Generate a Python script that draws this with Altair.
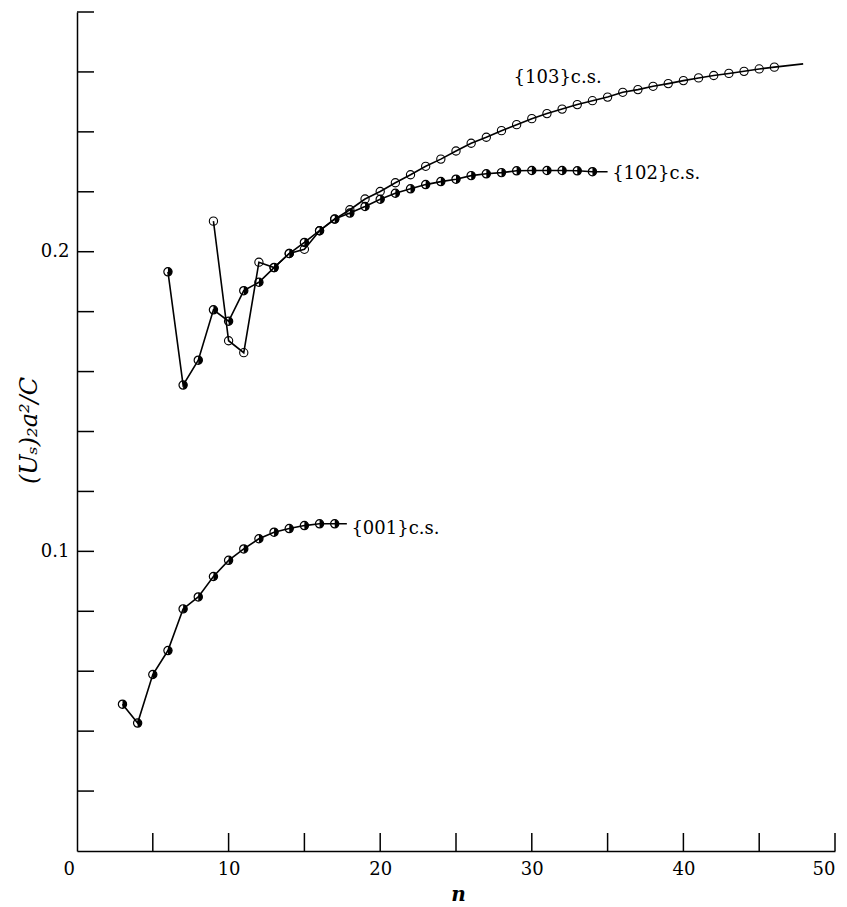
import altair as alt
import pandas as pd

# ---- data ----
n_001 = list(range(3, 18))
v_001 = [0.0490, 0.0427, 0.0589, 0.0669, 0.0808, 0.0848, 0.0916, 0.0970,
         0.1008, 0.1042, 0.1064, 0.1076, 0.1086, 0.1092, 0.1092]

n_102 = list(range(6, 35))
v_102 = [0.1933, 0.1555, 0.1638, 0.1806, 0.1768, 0.1870, 0.1898, 0.1947,
         0.1994, 0.2031, 0.2070, 0.2109, 0.2129, 0.2151, 0.2175, 0.2195,
         0.2210, 0.2224, 0.2234, 0.2242, 0.2254, 0.2260, 0.2264, 0.2270,
         0.2271, 0.2271, 0.2271, 0.2270, 0.2267]

n_103 = list(range(9, 47))
v_103 = [0.2102, 0.1703, 0.1663, 0.1965, 0.1947, 0.1994, 0.2008, 0.2070,
         0.2109, 0.2140, 0.2176, 0.2201, 0.2230, 0.2257, 0.2285, 0.2309,
         0.2336, 0.2362, 0.2382, 0.2404, 0.2424, 0.2444, 0.2461, 0.2476,
         0.2491, 0.2504, 0.2516, 0.2532, 0.2541, 0.2552, 0.2561, 0.2571,
         0.2580, 0.2588, 0.2595, 0.2602, 0.2610, 0.2616]

# where each drawn curve runs on past its last marker
end_n = {"001": 17.8, "102": 35.0, "103": 47.9}
end_v = {"001": 0.1092, "102": 0.2267, "103": 0.2627}

label_text = ["{103}c.s.", "{102}c.s.", "{001}c.s."]
label_n = [28.8, 35.3, 18.1]
label_v = [0.2581, 0.2258, 0.1075]

x_tick_values = [5, 10, 15, 20, 25, 30, 35, 40, 45, 50]
y_tick_values = [0.02, 0.04, 0.06, 0.08, 0.10, 0.12, 0.14, 0.16, 0.18,
                 0.20, 0.22, 0.24, 0.26, 0.28]
x_label_values = [0, 10, 20, 30, 40, 50]
y_label_values = [0.1, 0.2]

# ---- tables ----
series = {"001": (n_001, v_001), "102": (n_102, v_102), "103": (n_103, v_103)}
line_rows, pt_rows = [], []
for s, (ns, vs) in series.items():
    for i, (n, v) in enumerate(zip(ns, vs)):
        line_rows.append({"s": s, "n": n, "v": v, "o": i})
        pt_rows.append({"s": s, "n": n, "v": v})
    line_rows.append({"s": s, "n": end_n[s], "v": end_v[s], "o": len(ns)})
lines_df = pd.DataFrame(line_rows)
pts_df = pd.DataFrame(pt_rows)
open_df = pts_df[pts_df.s == "103"]
half_df = pts_df[pts_df.s != "103"]
labels_df = pd.DataFrame({"t": label_text, "n": label_n, "v": label_v})
xt_df = pd.DataFrame({"t": x_tick_values})
yt_df = pd.DataFrame({"t": y_tick_values})

W, H = 758, 839
FONT = "DejaVu Serif"

xs = alt.Scale(domain=[0, 50], nice=False, zero=False)
ys = alt.Scale(domain=[0, 0.28], nice=False, zero=False)

xaxis = alt.Axis(values=x_label_values, ticks=False, grid=False,
                 domainColor="black", domainWidth=1.5,
                 labelFont=FONT, labelFontSize=18, labelColor="black",
                 labelPadding=9,
                 labelOffset={"condition": {"test": "datum.value === 0", "value": -14}, "value": 0},
                 title="n", titleFont=FONT, titleFontSize=20,
                 titleFontStyle="italic", titleFontWeight="bold",
                 titleColor="black", titleX=W / 2 + 2, titleY=43,
                 titleBaseline="middle")
yaxis = alt.Axis(values=y_label_values, format=".1f", ticks=False, grid=False,
                 domainColor="black", domainWidth=1.5,
                 labelFont=FONT, labelFontSize=18, labelColor="black",
                 labelPadding=8,
                 title="(Uₛ)₂a²/C", titleFont=FONT, titleFontSize=24,
                 titleFontStyle="italic", titleFontWeight="normal",
                 titleColor="black", titleAngle=270, titleX=-48, titleY=418,
                 titleBaseline="middle", titleAlign="center")


def X(f):
    return alt.X(f, type="quantitative", scale=xs, axis=xaxis)


def Y(f):
    return alt.Y(f, type="quantitative", scale=ys, axis=yaxis)


lines = alt.Chart(lines_df).mark_line(color="black", strokeWidth=1.6).encode(
    x=X("n"), y=Y("v"), detail="s:N", order="o:Q")

open_pts = alt.Chart(open_df).mark_point(
    shape="circle", filled=False, stroke="black", strokeWidth=1.1, size=68,
    opacity=1).encode(x=X("n"), y=Y("v"))

half_ring = alt.Chart(half_df).mark_point(
    shape="circle", filled=False, stroke="black", strokeWidth=1.2, size=68,
    opacity=1).encode(x=X("n"), y=Y("v"))

half_fill = alt.Chart(half_df).mark_point(
    shape="M0,-1A1,1,0,0,1,0,1Z", filled=True, fill="black", strokeWidth=0,
    size=68, opacity=1).encode(x=X("n"), y=Y("v"))

texts = alt.Chart(labels_df).mark_text(
    align="left", baseline="middle", font=FONT, fontSize=18, color="black"
).encode(x=X("n"), y=Y("v"), text="t:N")

yticks = alt.Chart(yt_df).mark_rule(color="black", strokeWidth=1.5).encode(
    y=Y("t"), x=alt.value(0), x2=alt.value(17))

xticks = alt.Chart(xt_df).mark_rule(color="black", strokeWidth=1.5).encode(
    x=X("t"), y=alt.value(H - 18), y2=alt.value(H))

chart = alt.layer(yticks, xticks, lines, open_pts, half_ring, half_fill, texts).properties(
    width=W, height=H,
    autosize=alt.AutoSizeParams(type="none"),
    padding={"left": 77, "top": 12, "right": 12, "bottom": 56},
    background="white",
).configure_view(stroke=None)

chart.save("out.html", embed_options={"renderer": "svg", "actions": False})
